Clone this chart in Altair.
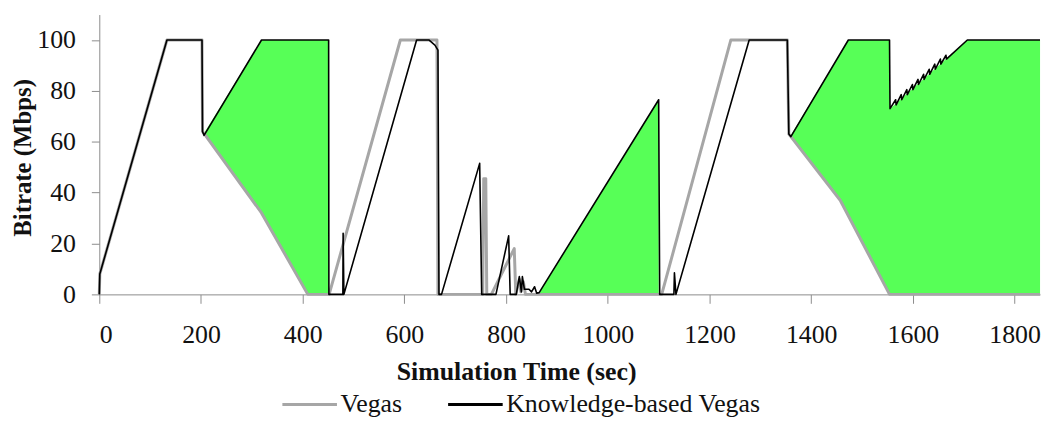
import altair as alt
import pandas as pd

# ---- data ----
vegas_t = [0, 1, 133, 202, 203, 208, 319, 410, 452, 592, 654, 664, 666,
           754, 756, 760, 762, 771, 816, 819, 826, 829, 834, 838, 1102, 1106,
           1242, 1353, 1356, 1360, 1457, 1554, 1850]
vegas_v = [0, 8, 100, 100, 64, 62.7, 32, 0, 0, 100, 100, 100, 0,
           0, 45.5, 45.5, 0, 0, 18, 0, 6, 1, 5, 0, 0, 0,
           100, 100, 63, 62, 37, 0, 0]

kb_t = [0, 1, 133, 202, 203, 206, 319, 451, 451.5, 479, 479.5, 481, 624, 648,
        660, 666, 668, 673, 748, 752, 780, 805, 808, 820, 826, 830, 832, 836,
        845, 850, 856, 860, 865, 1100, 1102, 1130, 1131, 1134, 1278, 1353, 1356,
        1360, 1473, 1554, 1555,
        1566, 1567, 1577, 1578, 1588, 1589, 1599, 1600, 1610, 1611, 1621, 1622,
        1632, 1633, 1643, 1644, 1654, 1655, 1665, 1666, 1707, 1850]
kb_v = [0, 8, 100, 100, 64, 62.5, 100, 100, 0, 0, 24, 0, 100, 100,
        98, 96, 0, 0, 51.5, 0, 0, 23, 0, 0, 7, 1, 7, 2,
        2, 1, 3, 0.5, 0.7, 76.5, 0, 0, 8.5, 0, 100, 100, 63,
        62, 100, 100, 73,
        76.5, 74.5, 78.5, 76.5, 80.5, 78.5, 82.5, 80.5, 84.5, 82.5, 86.5, 84.5,
        88.5, 86.5, 90.5, 88.5, 92.5, 90.5, 94, 92.5, 100, 100]

# green region between the two series where Knowledge-based Vegas is higher
fill_seg = ["a", "a", "a", "a", "b", "b", "c", "c", "c", "c", "c", "c", "c"]
fill_t = [205, 319, 410, 451, 865, 1100, 1358, 1457, 1473, 1554, 1555, 1707, 1850]
fill_top = [63, 100, 100, 100, 0.7, 76.5, 62, 94.7, 100, 100, 73, 100, 100]
fill_bot = [63, 32, 0, 0, 0, 0, 62, 37, 30.9, 0, 0, 0, 0]

x_ticks = [0, 200, 400, 600, 800, 1000, 1200, 1400, 1600, 1800]
y_ticks = [0, 20, 40, 60, 80, 100]

series_names = ["Vegas", "Knowledge-based Vegas"]
series_colors = ["#a6a6a6", "#000000"]

vegas = pd.DataFrame({"t": vegas_t, "v": vegas_v, "series": "Vegas"})
vegas["i"] = range(len(vegas))
kb = pd.DataFrame({"t": kb_t, "v": kb_v, "series": "Knowledge-based Vegas"})
kb["i"] = range(len(kb))
fill = pd.DataFrame({"seg": fill_seg, "t": fill_t, "top": fill_top, "bot": fill_bot})

FONT = "Liberation Serif"

xscale = alt.Scale(domain=[0, 1850], nice=False, zero=False)
yscale = alt.Scale(domain=[0, 110], nice=False)

xaxis = alt.Axis(values=x_ticks, format="d", title="Simulation Time (sec)", grid=False,
                 labelFontSize=26, titleFontSize=26,
                 titleFontWeight="bold", tickSize=9, labelPadding=18,
                 titleX=420, titleY=78, titleBaseline="middle")
yaxis = alt.Axis(values=y_ticks, format="d", title="Bitrate (Mbps)", grid=False,
                 labelFontSize=26, titleFontSize=25,
                 titleFontWeight="bold", tickSize=8, labelPadding=16,
                 titleX=-77, titleY=144, titleAngle=-90, titleBaseline="middle",
                 titleAlign="center")

color_scale = alt.Scale(domain=series_names, range=series_colors)
legend = alt.Legend(title=None, orient="none", legendX=183, legendY=364,
                    direction="horizontal", symbolType="stroke", symbolSize=3025,
                    symbolStrokeWidth=3, labelFontSize=26,
                    labelOffset=2, columnPadding=39,
                    labelLimit=500, padding=0)

area = alt.Chart(fill).mark_area(color="#57ff57", opacity=1, interpolate="linear").encode(
    x=alt.X("t:Q", scale=xscale, axis=xaxis),
    y=alt.Y("top:Q", scale=yscale, axis=yaxis, stack=False),
    y2="bot:Q",
    detail="seg:N",
)

gray = alt.Chart(vegas).mark_line(strokeWidth=3, strokeJoin="round").encode(
    x=alt.X("t:Q", scale=xscale),
    y=alt.Y("v:Q", scale=yscale),
    color=alt.Color("series:N", scale=color_scale, legend=legend),
    order=alt.Order("i:Q"),
)

black = alt.Chart(kb).mark_line(strokeWidth=1.6, strokeJoin="round").encode(
    x=alt.X("t:Q", scale=xscale),
    y=alt.Y("v:Q", scale=yscale),
    color=alt.Color("series:N", scale=color_scale, legend=legend),
    order=alt.Order("i:Q"),
)

chart = alt.layer(area, gray, black).properties(
    width=948, height=282,
    autosize=alt.AutoSizeParams(type="none"),
    padding={"left": 92, "top": 5, "right": 6, "bottom": 125},
    background="white",
).configure(font=FONT).configure_view(stroke=None).configure_axis(
    labelFont=FONT, titleFont=FONT, labelColor="#111111", titleColor="#111111",
    domainColor="#8c8c8c", tickColor="#8c8c8c",
).configure_legend(labelFont=FONT, labelColor="#111111")

chart.save("out.html", embed_options={"renderer": "svg", "actions": False})
